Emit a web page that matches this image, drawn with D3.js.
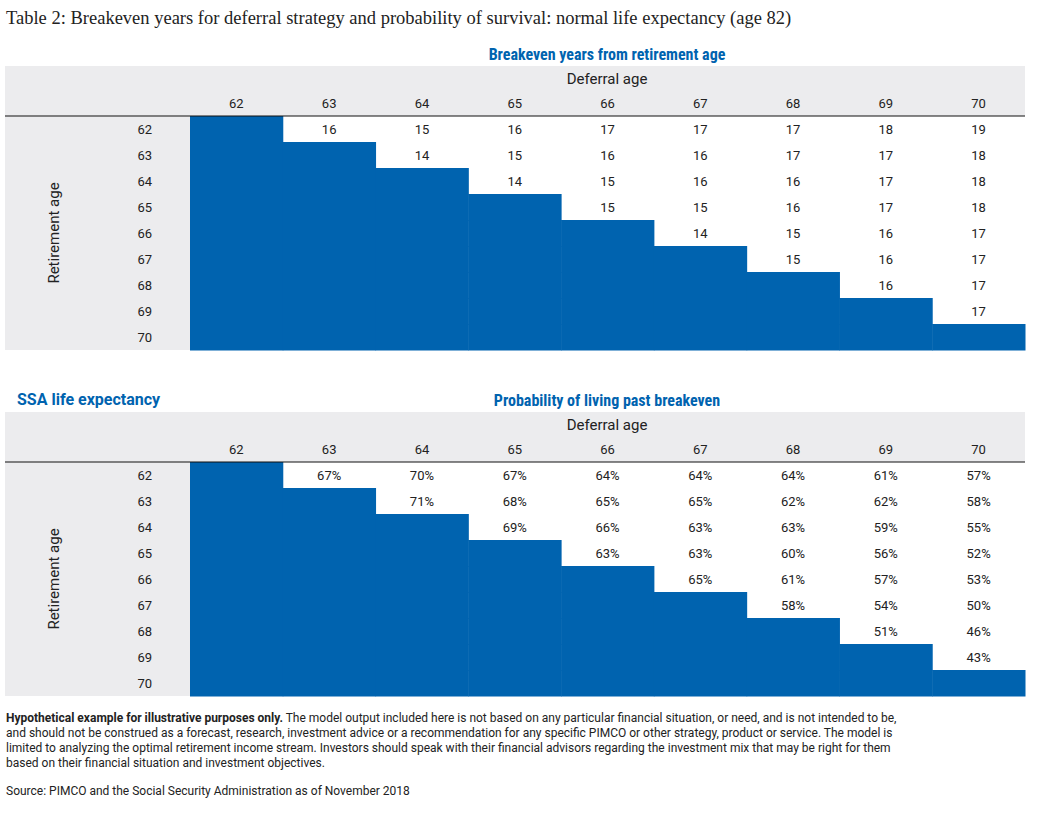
<!DOCTYPE html>
<html>
<head>
<meta charset="utf-8">
<script src="https://cdn.jsdelivr.net/npm/d3@7"></script>
<style>
body { margin: 0; background: #fff; }
text { font-family: Roboto, "Liberation Sans", sans-serif; }
</style>
</head>
<body>
<div id="chart"></div>
<script>
// Ages used for both rows and columns
var ages = [62, 63, 64, 65, 66, 67, 68, 69, 70];

// Breakeven years (row = retirement age, col = deferral age), null = blue cell
var breakeven = [
    [null, 16, 15, 16, 17, 17, 17, 18, 19],
    [null, null, 14, 15, 16, 16, 17, 17, 18],
    [null, null, null, 14, 15, 16, 16, 17, 18],
    [null, null, null, null, 15, 15, 16, 17, 18],
    [null, null, null, null, null, 14, 15, 16, 17],
    [null, null, null, null, null, null, 15, 16, 17],
    [null, null, null, null, null, null, null, 16, 17],
    [null, null, null, null, null, null, null, null, 17],
    [null, null, null, null, null, null, null, null, null]
];

// Probability of living past breakeven (%)
var probability = [
    [null, 67, 70, 67, 64, 64, 64, 61, 57],
    [null, null, 71, 68, 65, 65, 62, 62, 58],
    [null, null, null, 69, 66, 63, 63, 59, 55],
    [null, null, null, null, 63, 63, 60, 56, 52],
    [null, null, null, null, null, 65, 61, 57, 53],
    [null, null, null, null, null, null, 58, 54, 50],
    [null, null, null, null, null, null, null, 51, 46],
    [null, null, null, null, null, null, null, null, 43],
    [null, null, null, null, null, null, null, null, null]
];

var blue = "#0063AF";
var grey = "#ECECEE";

var svg = d3.select("#chart").append("svg")
    .attr("width", 1050)
    .attr("height", 817);

svg.append("text")
    .attr("x", 6).attr("y", 24)
    .style("font-family", "'Liberation Serif', 'DejaVu Serif', serif")
    .style("font-size", "18.5px")
    .attr("fill", "#222")
    .text("Table 2: Breakeven years for deferral strategy and probability of survival: normal life expectancy (age 82)");

var x = d3.scaleBand().domain(ages).range([190, 1025]);

function drawTable(top, title, values, fmt) {
    var y = d3.scaleBand().domain(ages).range([top + 50, top + 284]);
    var g = svg.append("g");

    // grey header and label column
    g.append("rect").attr("x", 5).attr("y", top).attr("width", 1020).attr("height", 50).attr("fill", grey);
    g.append("rect").attr("x", 5).attr("y", top + 50).attr("width", 185).attr("height", 234).attr("fill", grey);

    g.append("text").attr("x", 607).attr("y", top - 6).attr("text-anchor", "middle")
        .attr("fill", blue).style("font-weight", "bold").style("font-size", "16px")
        .style("font-stretch", "condensed").text(title);
    g.append("text").attr("x", 607).attr("y", top + 18).attr("text-anchor", "middle")
        .attr("fill", "#222").style("font-size", "15px").text("Deferral age");

    g.selectAll(".col").data(ages).enter().append("text")
        .attr("x", d => x(d) + x.bandwidth() / 2).attr("y", top + 42)
        .attr("text-anchor", "middle").style("font-size", "13px").attr("fill", "#222")
        .text(d => d);

    g.selectAll(".row").data(ages).enter().append("text")
        .attr("x", 152).attr("y", d => y(d) + y.bandwidth() / 2 + 5)
        .attr("text-anchor", "end").style("font-size", "13px").attr("fill", "#222")
        .text(d => d);

    g.append("text")
        .attr("transform", `translate(59, ${top + 50 + 117}) rotate(-90)`)
        .attr("text-anchor", "middle").style("font-size", "15px").attr("fill", "#222")
        .text("Retirement age");

    var cells = [];
    values.forEach(function(row, i) {
        row.forEach(function(v, j) {
            cells.push({ r: ages[i], c: ages[j], v: v });
        });
    });

    g.selectAll(".cell").data(cells.filter(d => d.v === null)).enter().append("rect")
        .attr("x", d => x(d.c)).attr("y", d => y(d.r))
        .attr("width", x.bandwidth() + 0.5).attr("height", y.bandwidth() + 0.5)
        .attr("fill", blue);

    g.selectAll(".val").data(cells.filter(d => d.v !== null)).enter().append("text")
        .attr("x", d => x(d.c) + x.bandwidth() / 2).attr("y", d => y(d.r) + y.bandwidth() / 2 + 5)
        .attr("text-anchor", "middle").style("font-size", "13px").attr("fill", "#222")
        .text(d => fmt(d.v));

    g.append("line").attr("x1", 5).attr("x2", 1025).attr("y1", top + 50).attr("y2", top + 50)
        .attr("stroke", "#111").attr("stroke-width", 1.2);
}

drawTable(66, "Breakeven years from retirement age", breakeven, d => d);
drawTable(412, "Probability of living past breakeven", probability, d => d + "%");

svg.append("text").attr("x", 17).attr("y", 405)
    .attr("fill", blue).style("font-weight", "bold").style("font-size", "16px")
    .text("SSA life expectancy");

var foot = [
    ["Hypothetical example for illustrative purposes only.", " The model output included here is not based on any particular financial situation, or need, and is not intended to be,"],
    ["", "and should not be construed as a forecast, research, investment advice or a recommendation for any specific PIMCO or other strategy, product or service. The model is"],
    ["", "limited to analyzing the optimal retirement income stream. Investors should speak with their financial advisors regarding the investment mix that may be right for them"],
    ["", "based on their financial situation and investment objectives."]
];
foot.forEach(function(f, i) {
    var t = svg.append("text").attr("x", 6).attr("y", 722 + i * 15)
        .style("font-size", "12px").attr("fill", "#222");
    if (f[0]) t.append("tspan").style("font-weight", "bold").text(f[0]);
    t.append("tspan").text(f[1]);
});
svg.append("text").attr("x", 6).attr("y", 795)
    .style("font-size", "12px").attr("fill", "#222")
    .text("Source: PIMCO and the Social Security Administration as of November 2018");
</script>
</body>
</html>
